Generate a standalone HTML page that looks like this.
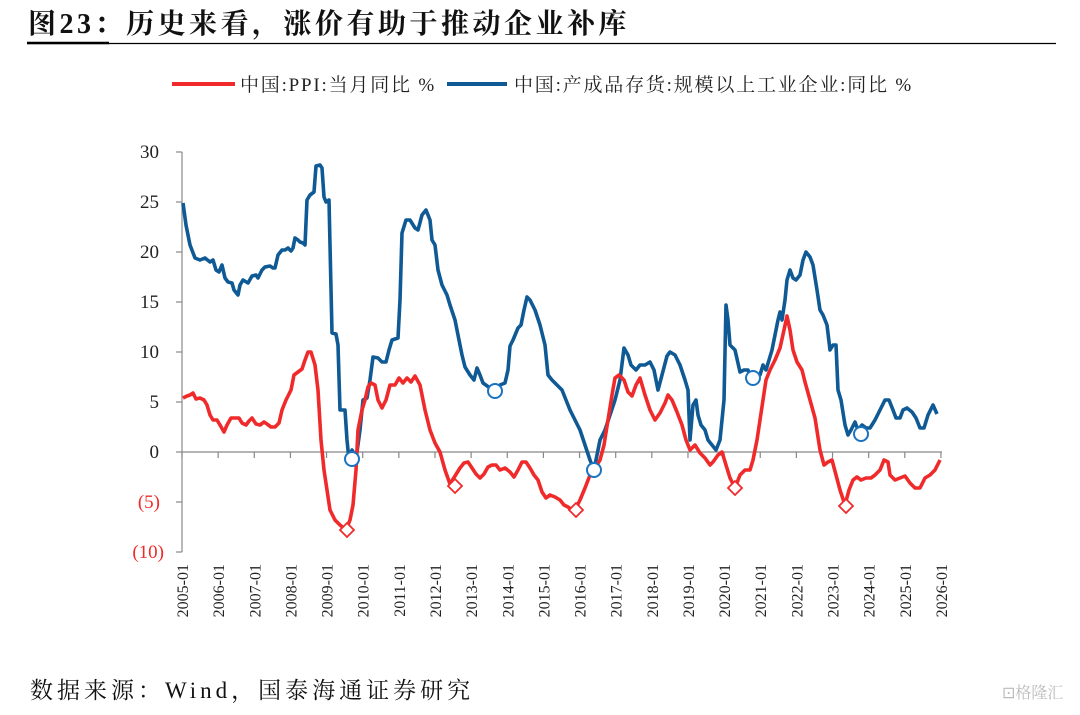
<!DOCTYPE html><html><head><meta charset="utf-8"><style>
body{margin:0;width:1080px;height:710px;background:#fff;overflow:hidden;font-family:"Liberation Serif","Noto Serif CJK SC",serif}
</style></head><body>
<svg width="1080" height="710" xmlns="http://www.w3.org/2000/svg" font-family="Liberation Serif, Noto Serif CJK SC, serif">
<text x="28" y="33" font-size="28" font-weight="bold" fill="#111" letter-spacing="3.5">图23：历史来看，涨价有助于推动企业补库</text>
<line x1="27" y1="43.5" x2="1056" y2="43.5" stroke="#000" stroke-width="1.2"/>
<line x1="27" y1="43" x2="109" y2="43" stroke="#000" stroke-width="2.5"/>
<line x1="172" y1="84" x2="235" y2="84" stroke="#f02a2a" stroke-width="4"/>
<text x="240" y="91" font-size="19" fill="#222" letter-spacing="1.8">中国:PPI:当月同比 %</text>
<line x1="447" y1="84" x2="507" y2="84" stroke="#0f5a94" stroke-width="4"/>
<text x="514" y="91" font-size="19" fill="#222" letter-spacing="1.8">中国:产成品存货:规模以上工业企业:同比 %</text>
<g stroke="#888" stroke-width="1.2">
<line x1="182" y1="152" x2="182" y2="552"/>
<line x1="176" y1="152" x2="182" y2="152"/><line x1="176" y1="202" x2="182" y2="202"/><line x1="176" y1="252" x2="182" y2="252"/><line x1="176" y1="302" x2="182" y2="302"/><line x1="176" y1="352" x2="182" y2="352"/><line x1="176" y1="402" x2="182" y2="402"/><line x1="176" y1="452" x2="182" y2="452"/><line x1="176" y1="502" x2="182" y2="502"/><line x1="176" y1="552" x2="182" y2="552"/>
<line x1="182" y1="452" x2="942" y2="452"/>
</g>
<g id="xt" stroke="#888" stroke-width="1.2"></g>
<g font-size="19" text-anchor="end" fill="#222">
<text x="159" y="158">30</text><text x="159" y="208">25</text><text x="159" y="258">20</text><text x="159" y="308">15</text><text x="159" y="358">10</text><text x="159" y="408">5</text><text x="159" y="458">0</text>
<text x="160" y="508" fill="#f02a2a">(5)</text><text x="164" y="558" fill="#f02a2a">(10)</text>
</g>
<g id="xl" font-size="16" fill="#222"></g>
<polyline fill="none" stroke="#0f5a94" stroke-width="3.6" stroke-linejoin="round" points="183,203 186,225 190,245 195,258 200,260 205,258 210,262 213,260 216,270 219,272 222,265 225,278 228,282 232,283 234,290 238,295 240,285 243,280 248,283 252,276 256,275 258,278 262,270 265,267 270,266 273,268 275,268 278,255 282,250 285,250 288,248 291,251 293,248 295,238 298,240 300,242 303,243 305,245 307,200 310,195 314,192 316,166 320,165 322,168 324,197 326,202 329,200 330,245 332,333 336,334 338,345 340,410 345,410 347,440 349,460 352,450 355,455 357,452 360,430 363,400 367,398 370,380 373,357 378,358 382,362 386,362 389,350 392,340 398,338 400,300 402,233 406,220 410,220 415,228 418,230 422,215 426,210 430,220 432,240 435,245 438,270 442,285 447,295 450,305 455,320 458,335 462,355 465,367 470,375 474,380 477,368 480,375 483,383 490,388 495,390 500,385 505,383 508,370 510,346 513,340 518,328 521,325 524,310 527,297 530,300 535,310 540,325 545,345 548,375 552,380 557,385 562,390 566,400 570,410 575,420 580,430 585,445 590,460 594,470 597,455 600,440 605,430 610,415 615,400 620,380 624,348 628,355 631,365 636,370 640,365 645,365 650,362 654,370 658,390 662,375 667,356 670,352 675,355 680,365 685,380 688,390 690,440 693,405 696,400 698,415 701,425 705,430 708,440 712,445 716,450 720,440 724,400 726,305 728,320 730,345 735,350 740,372 744,370 748,370 750,375 753,378 757,375 760,375 763,365 766,370 769,360 772,350 775,335 778,320 780,312 782,320 785,300 787,280 790,270 793,278 796,280 800,275 803,260 806,252 810,257 813,265 817,290 820,310 823,315 827,325 830,350 833,345 836,345 838,390 841,400 845,425 848,435 851,430 855,422 858,430 862,425 866,428 870,428 875,420 880,410 885,400 889,400 893,410 896,418 900,418 903,410 907,408 912,412 916,418 920,428 924,428 928,415 933,405 937,414"/>
<polyline fill="none" stroke="#f02a2a" stroke-width="3.6" stroke-linejoin="round" points="183,398 187,396 190,395 193,393 196,399 200,398 204,400 207,405 210,415 213,420 217,420 220,425 224,432 227,425 231,418 235,418 239,418 242,423 246,425 249,421 252,418 256,424 260,425 264,422 267,424 271,427 275,427 279,423 282,410 286,400 291,390 294,375 298,372 302,369 305,360 308,352 311,352 315,365 318,390 321,440 324,470 327,490 330,510 335,520 340,525 346,530 350,520 353,505 356,470 358,430 362,410 365,400 368,387 371,383 375,385 378,400 382,408 386,400 390,385 395,385 399,378 403,383 407,378 411,382 415,376 420,385 425,410 430,430 435,443 440,452 445,470 450,484 455,476 460,468 464,463 468,462 472,468 476,474 480,478 484,474 488,467 492,465 496,465 500,470 505,468 510,472 514,477 518,470 522,462 526,462 530,468 534,475 538,480 542,492 546,498 550,495 555,497 560,500 564,505 568,507 572,510 576,508 580,500 585,488 590,475 595,468 600,460 604,445 608,420 612,395 615,378 619,375 624,380 628,392 632,396 636,385 640,378 645,395 650,410 655,420 660,413 665,403 668,395 672,400 677,412 682,425 686,440 690,450 695,445 700,453 705,458 710,465 713,462 718,455 722,452 726,465 730,478 735,488 740,475 745,470 750,470 753,460 757,440 760,420 763,400 766,380 770,370 775,360 780,348 784,330 787,316 790,330 793,350 797,362 802,370 805,382 810,400 815,418 820,450 824,465 828,462 832,460 836,475 840,490 845,505 849,490 853,480 857,477 861,480 866,478 871,478 875,475 880,470 884,460 888,462 890,475 895,480 900,478 905,476 910,483 915,488 920,488 925,478 930,475 935,470 940,460"/>
<g fill="#fff" stroke="#1a73c0" stroke-width="2">
<circle cx="352" cy="459" r="7"/><circle cx="495" cy="391" r="7"/><circle cx="594" cy="470" r="7"/><circle cx="753" cy="378" r="7"/><circle cx="861" cy="434" r="7"/></g>
<g fill="#fff" stroke="#f02a2a" stroke-width="1.8">
<polygon points="347,523 354,530 347,537 340,530"/><polygon points="455,479 462,486 455,493 448,486"/><polygon points="576,503 583,510 576,517 569,510"/><polygon points="735,481 742,488 735,495 728,488"/><polygon points="846,499 853,506 846,513 839,506"/></g>
<text x="30" y="698" font-size="23" fill="#111" letter-spacing="4">数据来源：Wind，国泰海通证券研究</text>
<text x="1002" y="698" font-size="16" fill="#bbb">⊡格隆汇</text>
</svg>
<script>
var xt=document.getElementById('xt'),xl=document.getElementById('xl'),ns='http://www.w3.org/2000/svg';
for(var i=0;i<=21;i++){var x=182+i*36.14;
var l=document.createElementNS(ns,'line');l.setAttribute('x1',x);l.setAttribute('x2',x);l.setAttribute('y1',452);l.setAttribute('y2',458);xt.appendChild(l);
var t=document.createElementNS(ns,'text');t.setAttribute('transform','translate('+(x+6)+',564) rotate(-90)');t.setAttribute('text-anchor','end');t.textContent=(2005+i)+'-01';xl.appendChild(t);}
</script>
</body></html>
